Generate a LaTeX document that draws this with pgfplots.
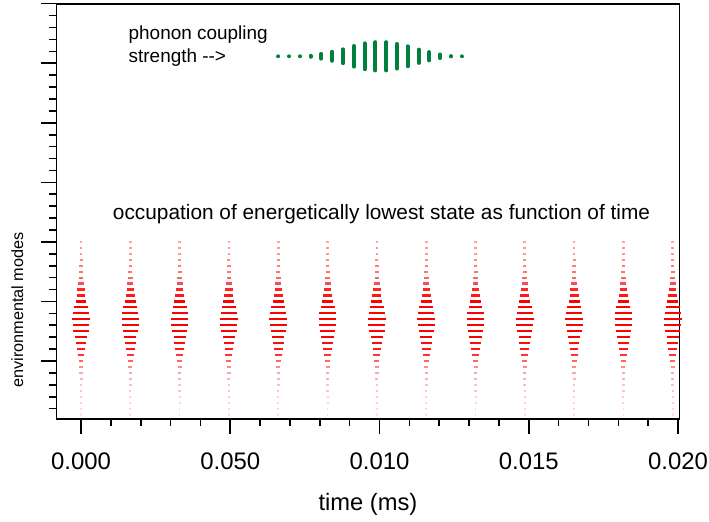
\documentclass[border=0pt]{standalone}
\usepackage{fontspec}
\setmainfont{Liberation Sans}
\usepackage{pgfplots}
\usepackage{pgfplotstable}
\pgfplotsset{compat=1.18}
\definecolor{pgreen}{RGB}{0,128,60}

% burst profile: y (mode), full dash width w (bp), intensity a
\pgfplotstableread{
y w a
3.0 2.7 0.35
2.9 2.7 0.40
2.8 2.7 0.40
2.7 3.0 0.45
2.6 3.3 0.50
2.5 4.0 0.55
2.4 4.7 0.60
2.3 6.0 0.70
2.2 7.3 0.85
2.1 9.0 0.90
2.0 11.0 1.00
1.9 14.0 1.00
1.8 16.3 1.00
1.7 17.7 1.00
1.6 17.0 1.00
1.5 15.3 1.00
1.4 12.3 1.00
1.3 10.7 0.95
1.2 8.7 0.90
1.1 7.0 0.80
1.0 5.0 0.60
0.9 4.0 0.45
0.8 3.3 0.35
0.7 3.0 0.30
0.6 2.7 0.25
0.5 2.3 0.22
0.4 2.0 0.20
0.3 2.0 0.18
0.2 1.7 0.15
0.1 1.7 0.12
}\profile

% phonon coupling strength: x (ms), y, bar length h (bp)
\pgfplotstableread{
x y h
0.006610 6.117 2.6
0.006968 6.117 2.6
0.007337 6.117 2.6
0.007695 6.117 5.0
0.008050 6.117 8.7
0.008409 6.117 13.0
0.008777 6.117 18.0
0.009146 6.117 24.7
0.009504 6.117 30.0
0.009859 6.117 32.3
0.010228 6.117 32.3
0.010586 6.117 28.7
0.010945 6.117 24.0
0.011313 6.117 17.3
0.011668 6.117 12.3
0.012027 6.117 7.7
0.012395 6.117 4.3
0.012754 6.117 3.0
}\coupling

\begin{document}
\begin{tikzpicture}
\useasboundingbox (-56.5bp,-103.3bp) rectangle (652.5bp,418.7bp);
\begin{axis}[
  at={(0,0)}, anchor=south west,
  scale only axis, width=623bp, height=415bp,
  xmin=-0.000821, xmax=0.02005,
  ymin=0.031, ymax=7,
  clip=false,
  tick pos=left, tick align=outside,
  xtick={0,0.005,0.01,0.015,0.02},
  xticklabels={0.000,0.050,0.010,0.015,0.020},
  minor xtick={0.001,0.002,0.003,0.004,0.006,0.007,0.008,0.009,0.011,0.012,0.013,0.014,0.016,0.017,0.018,0.019},
  ytick={1,2,3,4,5,6,7},
  yticklabels={},
  minor ytick={0.2,0.4,0.6,0.8,1.2,1.4,1.6,1.8,2.2,2.4,2.6,2.8,3.2,3.4,3.6,3.8,4.2,4.4,4.6,4.8,5.2,5.4,5.6,5.8,6.2,6.4,6.6,6.8},
  major tick length=15bp, minor tick length=7.5bp,
  every tick/.style={black, line width=1.6bp},
  axis line style={line width=1.8bp},
  xticklabel style={font=\fontsize{24}{24}\selectfont, anchor=base, yshift=-36bp},
  scaled x ticks=false,
  colormap={whitered}{rgb255=(255,255,255) rgb255=(255,0,0)},
  point meta min=0, point meta max=1,
]
\pgfplotsinvokeforeach{0,0.001652,0.003304,0.004956,0.006608,0.008260,0.009912,0.011564,0.013216,0.014868,0.016520,0.018172,0.019824}{
  \addplot[scatter, only marks, mark=-,
    scatter/use mapped color={draw=mapped color, fill=mapped color},
    mark options={line width=2.2bp},
    point meta=\thisrow{a},
    visualization depends on={\thisrow{w}/2 \as \hw},
    scatter/@pre marker code/.append style={/tikz/mark size=\hw}]
    table[x expr=#1, y=y]{\profile};
}
\addplot[scatter, only marks, mark=|,
  scatter/use mapped color={draw=pgreen,fill=pgreen},
  mark options={line width=3.9bp, line cap=round},
  visualization depends on={max(0.01,(\thisrow{h}-3.9)/2) \as \hs},
  scatter/@pre marker code/.append style={/tikz/mark size=\hs}]
  table[x=x, y=y]{\coupling};
\end{axis}
\node[anchor=base west, inner sep=0pt, font=\fontsize{19}{19}\selectfont] at (72bp,378.7bp) {phonon coupling};
\node[anchor=base west, inner sep=0pt, font=\fontsize{19}{19}\selectfont] at (72bp,356.4bp) {strength {-}{-}>};
\node[anchor=base, inner sep=0pt, font=\fontsize{20.9}{20.9}\selectfont] at (325bp,198.7bp) {occupation of energetically lowest state as function of time};
\node[anchor=base, inner sep=0pt, rotate=90, font=\fontsize{16.3}{16.3}\selectfont] at (-33.5bp,108.7bp) {environmental modes};
\node[anchor=base, inner sep=0pt, font=\fontsize{23.8}{23.8}\selectfont] at (311.5bp,-91.5bp) {time (ms)};
\end{tikzpicture}
\end{document}
